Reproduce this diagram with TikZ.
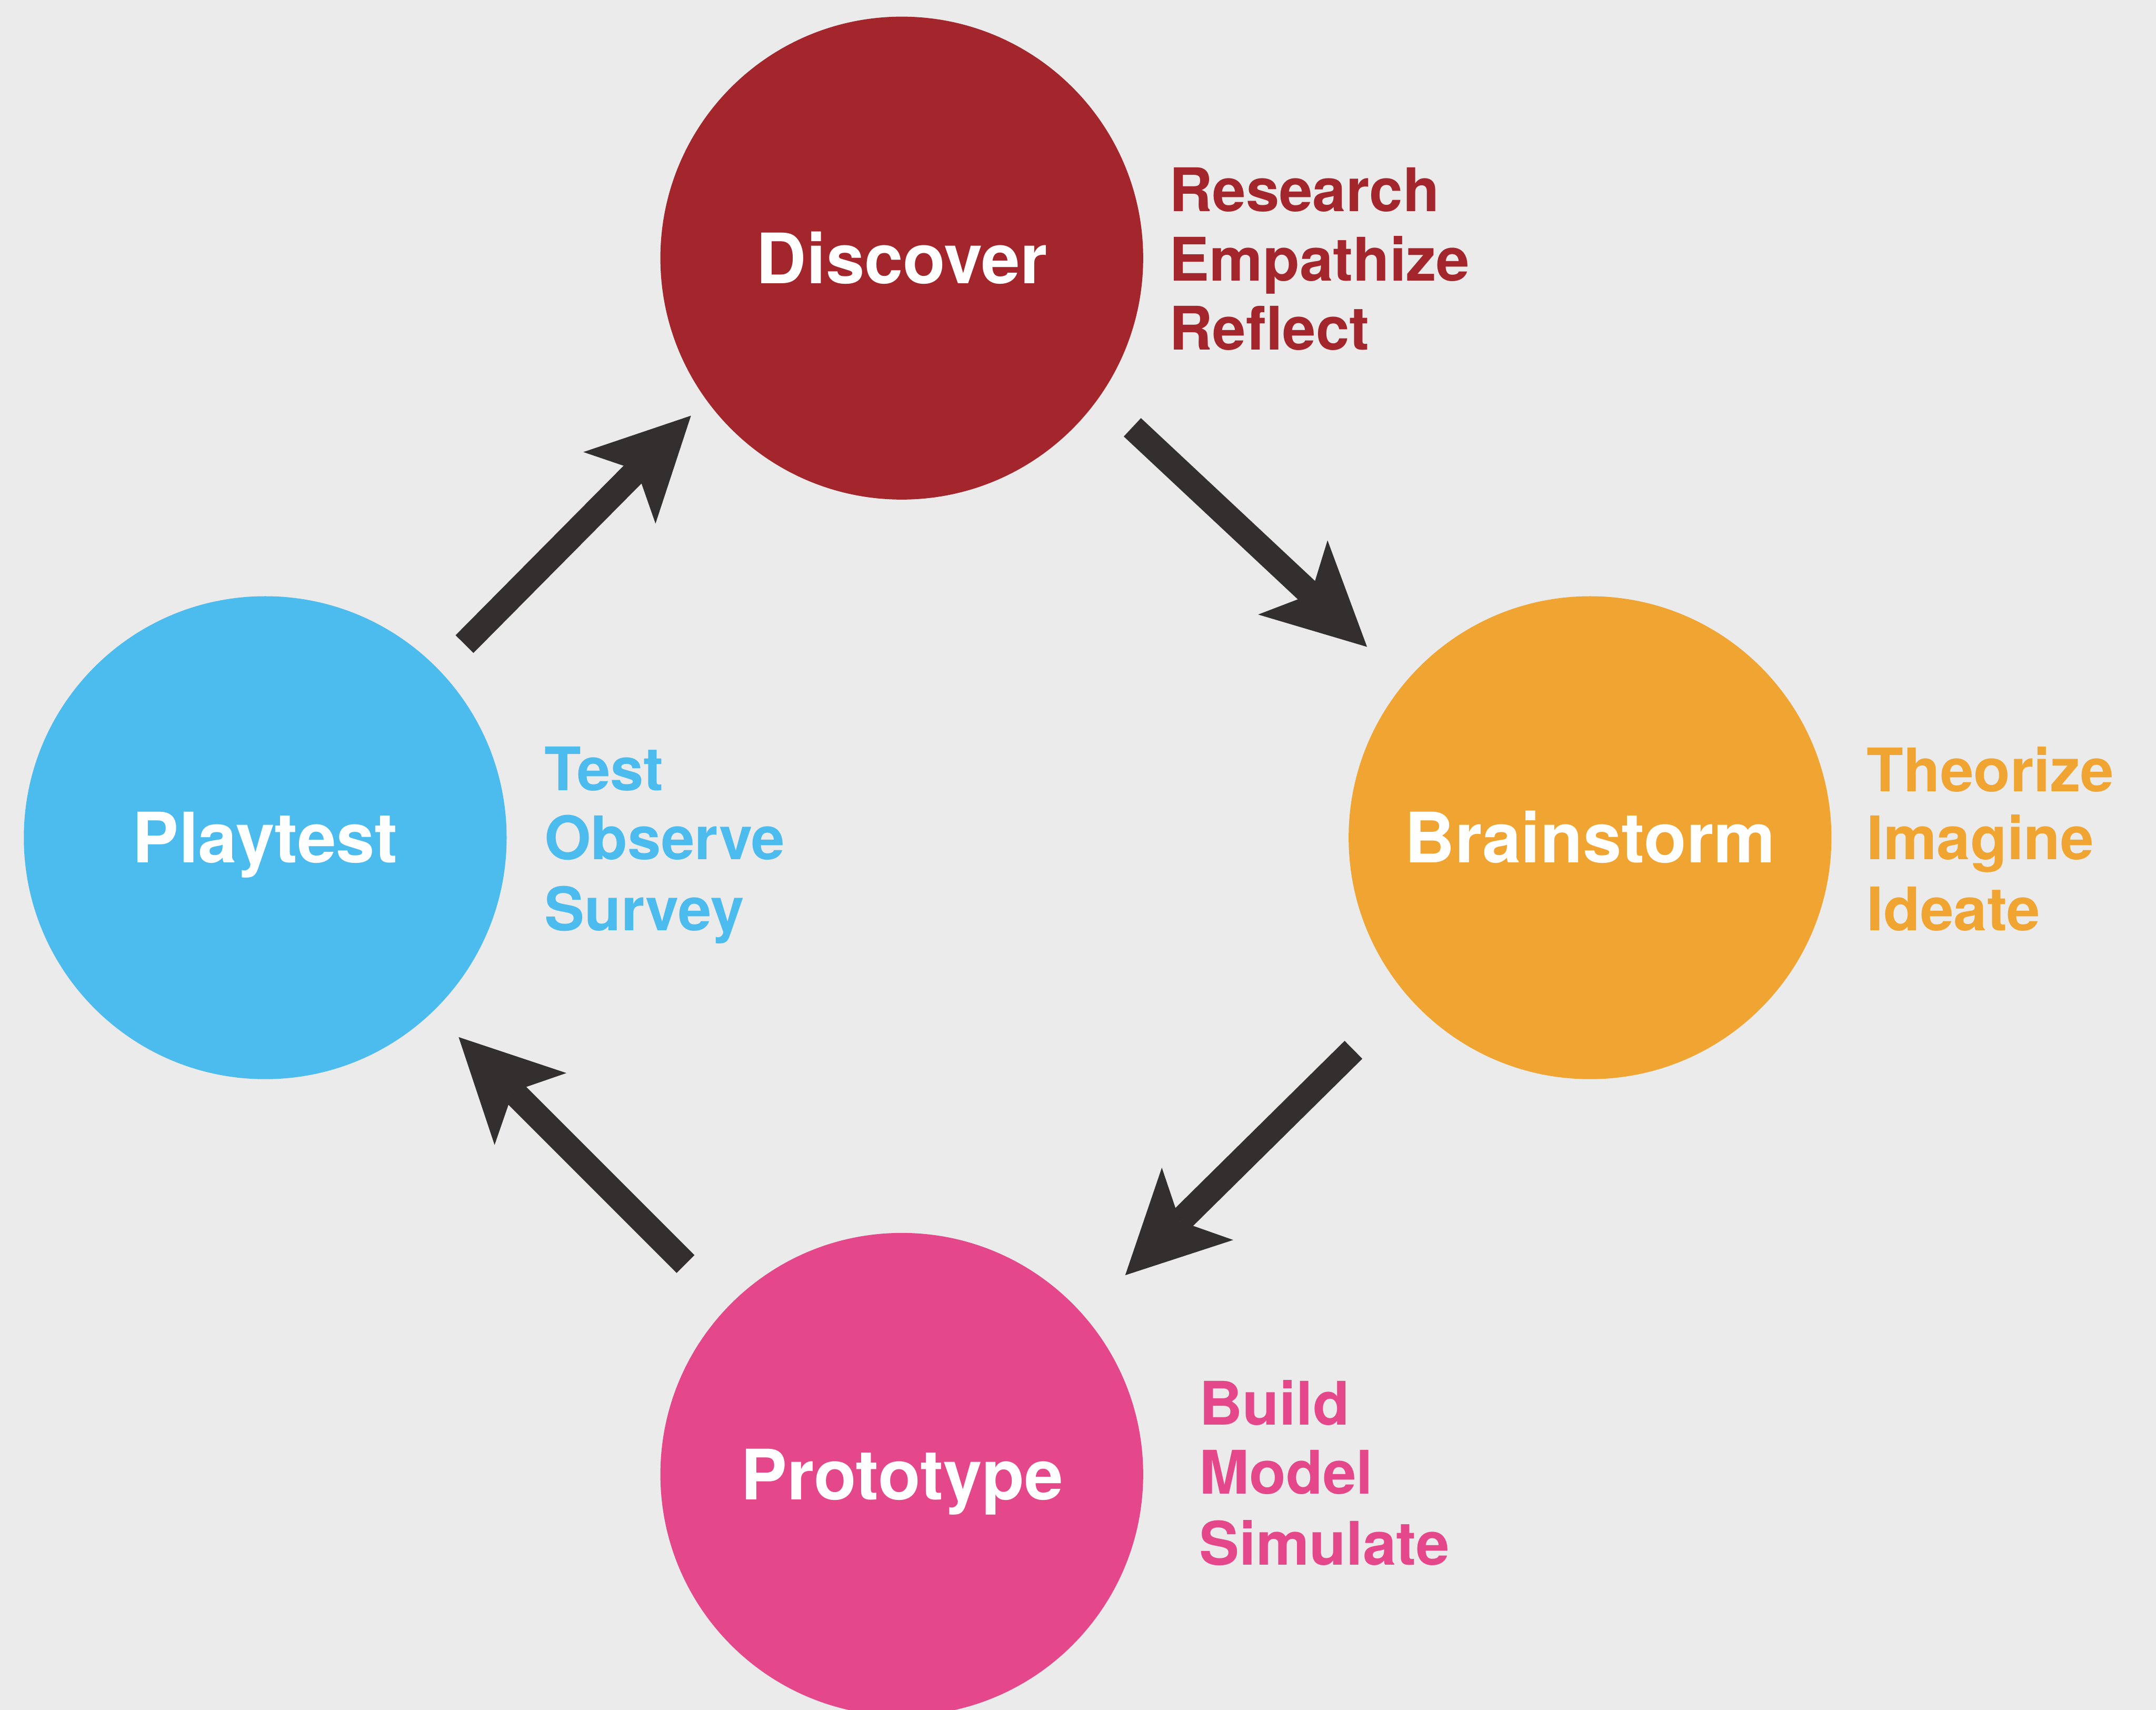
\documentclass[tikz,border=0pt]{standalone}
\usepackage{fontspec}
\setmainfont{TeX Gyre Heros}
\usetikzlibrary{arrows.meta}

\definecolor{paper}{HTML}{EBEBEB}
\definecolor{discred}{HTML}{A3262C}
\definecolor{brainorange}{HTML}{F0A533}
\definecolor{playblue}{HTML}{4CBBED}
\definecolor{protopink}{HTML}{E4478A}
\definecolor{arrowdark}{HTML}{332F2E}

\begin{document}
\begin{tikzpicture}[
  phase/.style={circle, fill=#1, minimum size=10.74cm, inner sep=0pt, outer sep=0pt,
    text=white, font=\fontsize{44}{50}\selectfont\bfseries,
    text height=1.12cm, text depth=0pt},
  note/.style={anchor=base west, inner sep=0pt, outer sep=0pt, text=#1,
    font=\fontsize{38}{46}\selectfont\bfseries},
  flow/.style={color=arrowdark, line width=0.56cm,
    -{Stealth[length=2.26cm, width=2.26cm, inset=0.55cm, line width=0pt]}}
]
% canvas
\useasboundingbox (0,0) rectangle (47.96,-38.03);
\clip (0,0) rectangle (47.96,-38.03);
\fill[paper] (0,0) rectangle (47.96,-38.03);

% the four phases
\node[phase=discred]     (disc)  at (20.06,-5.74)  {Discover};
\node[phase=brainorange] (brain) at (35.37,-18.63) {Brainstorm};
\node[phase=protopink]   (proto) at (20.06,-32.79) {Prototype};
\node[phase=playblue]    (play)  at (5.90,-18.63)  {Playtest};

% activities beside each phase
\node[note=discred] (d1) at ([shift={(5.95,1.04)}]disc.center)  {Research};
\node[note=discred] (d2) at ([shift={(5.95,-0.51)}]disc.center) {Empathize};
\node[note=discred] (d3) at ([shift={(5.95,-2.04)}]disc.center) {Reflect};

\node[note=brainorange] (b1) at ([shift={(6.16,1.03)}]brain.center)  {Theorize};
\node[note=brainorange] (b2) at ([shift={(6.16,-0.49)}]brain.center) {Imagine};
\node[note=brainorange] (b3) at ([shift={(6.16,-2.07)}]brain.center) {Ideate};

\node[note=protopink] (p1) at ([shift={(6.62,1.10)}]proto.center)  {Build};
\node[note=protopink] (p2) at ([shift={(6.62,-0.43)}]proto.center) {Model};
\node[note=protopink] (p3) at ([shift={(6.62,-2.01)}]proto.center) {Simulate};

\node[note=playblue] (t1) at ([shift={(6.21,1.05)}]play.center)  {Test};
\node[note=playblue] (t2) at ([shift={(6.21,-0.49)}]play.center) {Observe};
\node[note=playblue] (t3) at ([shift={(6.21,-2.07)}]play.center) {Survey};

% the cycle
\draw[flow, shorten <=0.81cm, shorten >=0.49cm] (play.44.3)   -- (disc.216.8);
\draw[flow, shorten <=1.00cm, shorten >=1.16cm] (disc.-35.5)  -- (brain.140.8);
\draw[flow, shorten <=1.70cm, shorten >=1.29cm] (brain.221.8) -- (proto.41.4);
\draw[flow, shorten <=1.34cm, shorten >=0.81cm] (proto.136.7) -- (play.-46.9);
\end{tikzpicture}
\end{document}
